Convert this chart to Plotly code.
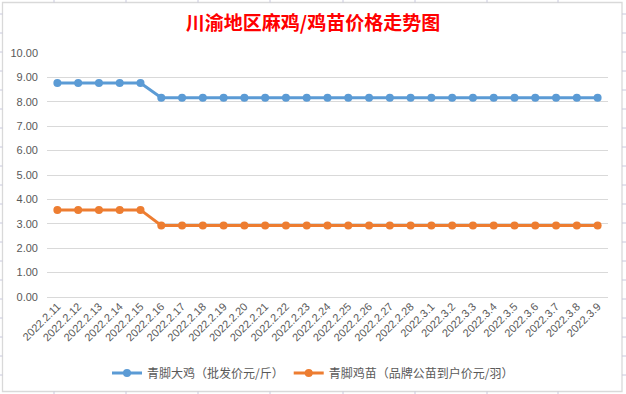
import plotly.graph_objects as go

dates = ["2022.2.11", "2022.2.12", "2022.2.13", "2022.2.14", "2022.2.15", "2022.2.16",
         "2022.2.17", "2022.2.18", "2022.2.19", "2022.2.20", "2022.2.21", "2022.2.22",
         "2022.2.23", "2022.2.24", "2022.2.25", "2022.2.26", "2022.2.27", "2022.2.28",
         "2022.3.1", "2022.3.2", "2022.3.3", "2022.3.4", "2022.3.5", "2022.3.6",
         "2022.3.7", "2022.3.8", "2022.3.9"]
big_chicken = [8.77, 8.77, 8.77, 8.77, 8.77] + [8.17] * 22
chick = [3.57, 3.57, 3.57, 3.57, 3.57] + [2.93] * 22
name_big = "青脚大鸡（批发价元/斤）"
name_chick = "青脚鸡苗（品牌公苗到户价元/羽）"
title_text = "川渝地区麻鸡/鸡苗价格走势图"
y_ticks = [0, 1, 2, 3, 4, 5, 6, 7, 8, 9, 10]

W, H = 626, 394
L, R, T, B = 47, 18, 53, 97
pw, ph = W - L - R, H - T - B

def px(x):
    return (x - L) / pw

def py(y):
    return (H - B - y) / ph

fig = go.Figure()
fig.add_trace(go.Scatter(x=dates, y=big_chicken, name=name_big, mode="lines+markers",
                         line=dict(color="#5B9BD5", width=3),
                         marker=dict(color="#5B9BD5", size=8)))
fig.add_trace(go.Scatter(x=dates, y=chick, name=name_chick, mode="lines+markers",
                         line=dict(color="#ED7D31", width=3),
                         marker=dict(color="#ED7D31", size=8)))

shapes = []
# chart border
shapes.append(dict(type="rect", xref="paper", yref="paper", x0=px(2.5), x1=px(622), y0=py(391.5), y1=py(2.5),
                   line=dict(color="#D9D9D9", width=1.3), fillcolor="rgba(0,0,0,0)", layer="below"))
# spreadsheet cell grid peeking outside the chart
for yy in range(14, 392, 19):
    shapes.append(dict(type="line", xref="paper", yref="paper", x0=px(0), x1=px(2.5), y0=py(yy), y1=py(yy),
                       line=dict(color="#C8C8DC", width=1)))
    shapes.append(dict(type="line", xref="paper", yref="paper", x0=px(622), x1=px(626), y0=py(yy), y1=py(yy),
                       line=dict(color="#C8C8DC", width=1)))
for xx in [54, 126, 198, 270, 343, 415, 487, 558]:
    shapes.append(dict(type="line", xref="paper", yref="paper", x0=px(xx), x1=px(xx), y0=py(0), y1=py(2.5),
                       line=dict(color="#C8C8DC", width=1)))
    shapes.append(dict(type="line", xref="paper", yref="paper", x0=px(xx), x1=px(xx), y0=py(391.5), y1=py(394),
                       line=dict(color="#C8C8DC", width=1)))

fig.update_layout(
    width=W, height=H,
    margin=dict(l=L, r=R, t=T, b=B, autoexpand=False),
    paper_bgcolor="white", plot_bgcolor="white",
    title=dict(text=title_text, x=0.5, xanchor="center", y=1 - 23 / H, yanchor="middle",
               font=dict(family="Noto Sans CJK SC", size=19, color="#FF0000", weight="bold")),
    showlegend=True,
    legend=dict(orientation="h", xref="container", x=0.5, xanchor="center", y=py(373), yanchor="middle",
                font=dict(family="Noto Sans CJK SC", size=12, color="#595959"),
                itemwidth=30, tracegroupgap=0, bgcolor="rgba(0,0,0,0)"),
    shapes=shapes,
    xaxis=dict(type="category", range=[-0.5, len(dates) - 0.5], showgrid=False,
               showline=False, ticks="", tickangle=-45,
               tickfont=dict(family="Liberation Sans", size=11, color="#595959")),
    yaxis=dict(range=[0, 10], tickvals=y_ticks, tickformat=".2f", showgrid=True,
               gridcolor="#D9D9D9", gridwidth=1, zeroline=True, zerolinecolor="#D9D9D9",
               zerolinewidth=1, showline=False, ticks="", ticklabelstandoff=8,
               tickfont=dict(family="Liberation Sans", size=11, color="#595959")),
)

fig.write_html("out.html", config={"displayModeBar": False},
               post_script="document.body.style.margin='0';document.body.style.overflow='hidden';")
